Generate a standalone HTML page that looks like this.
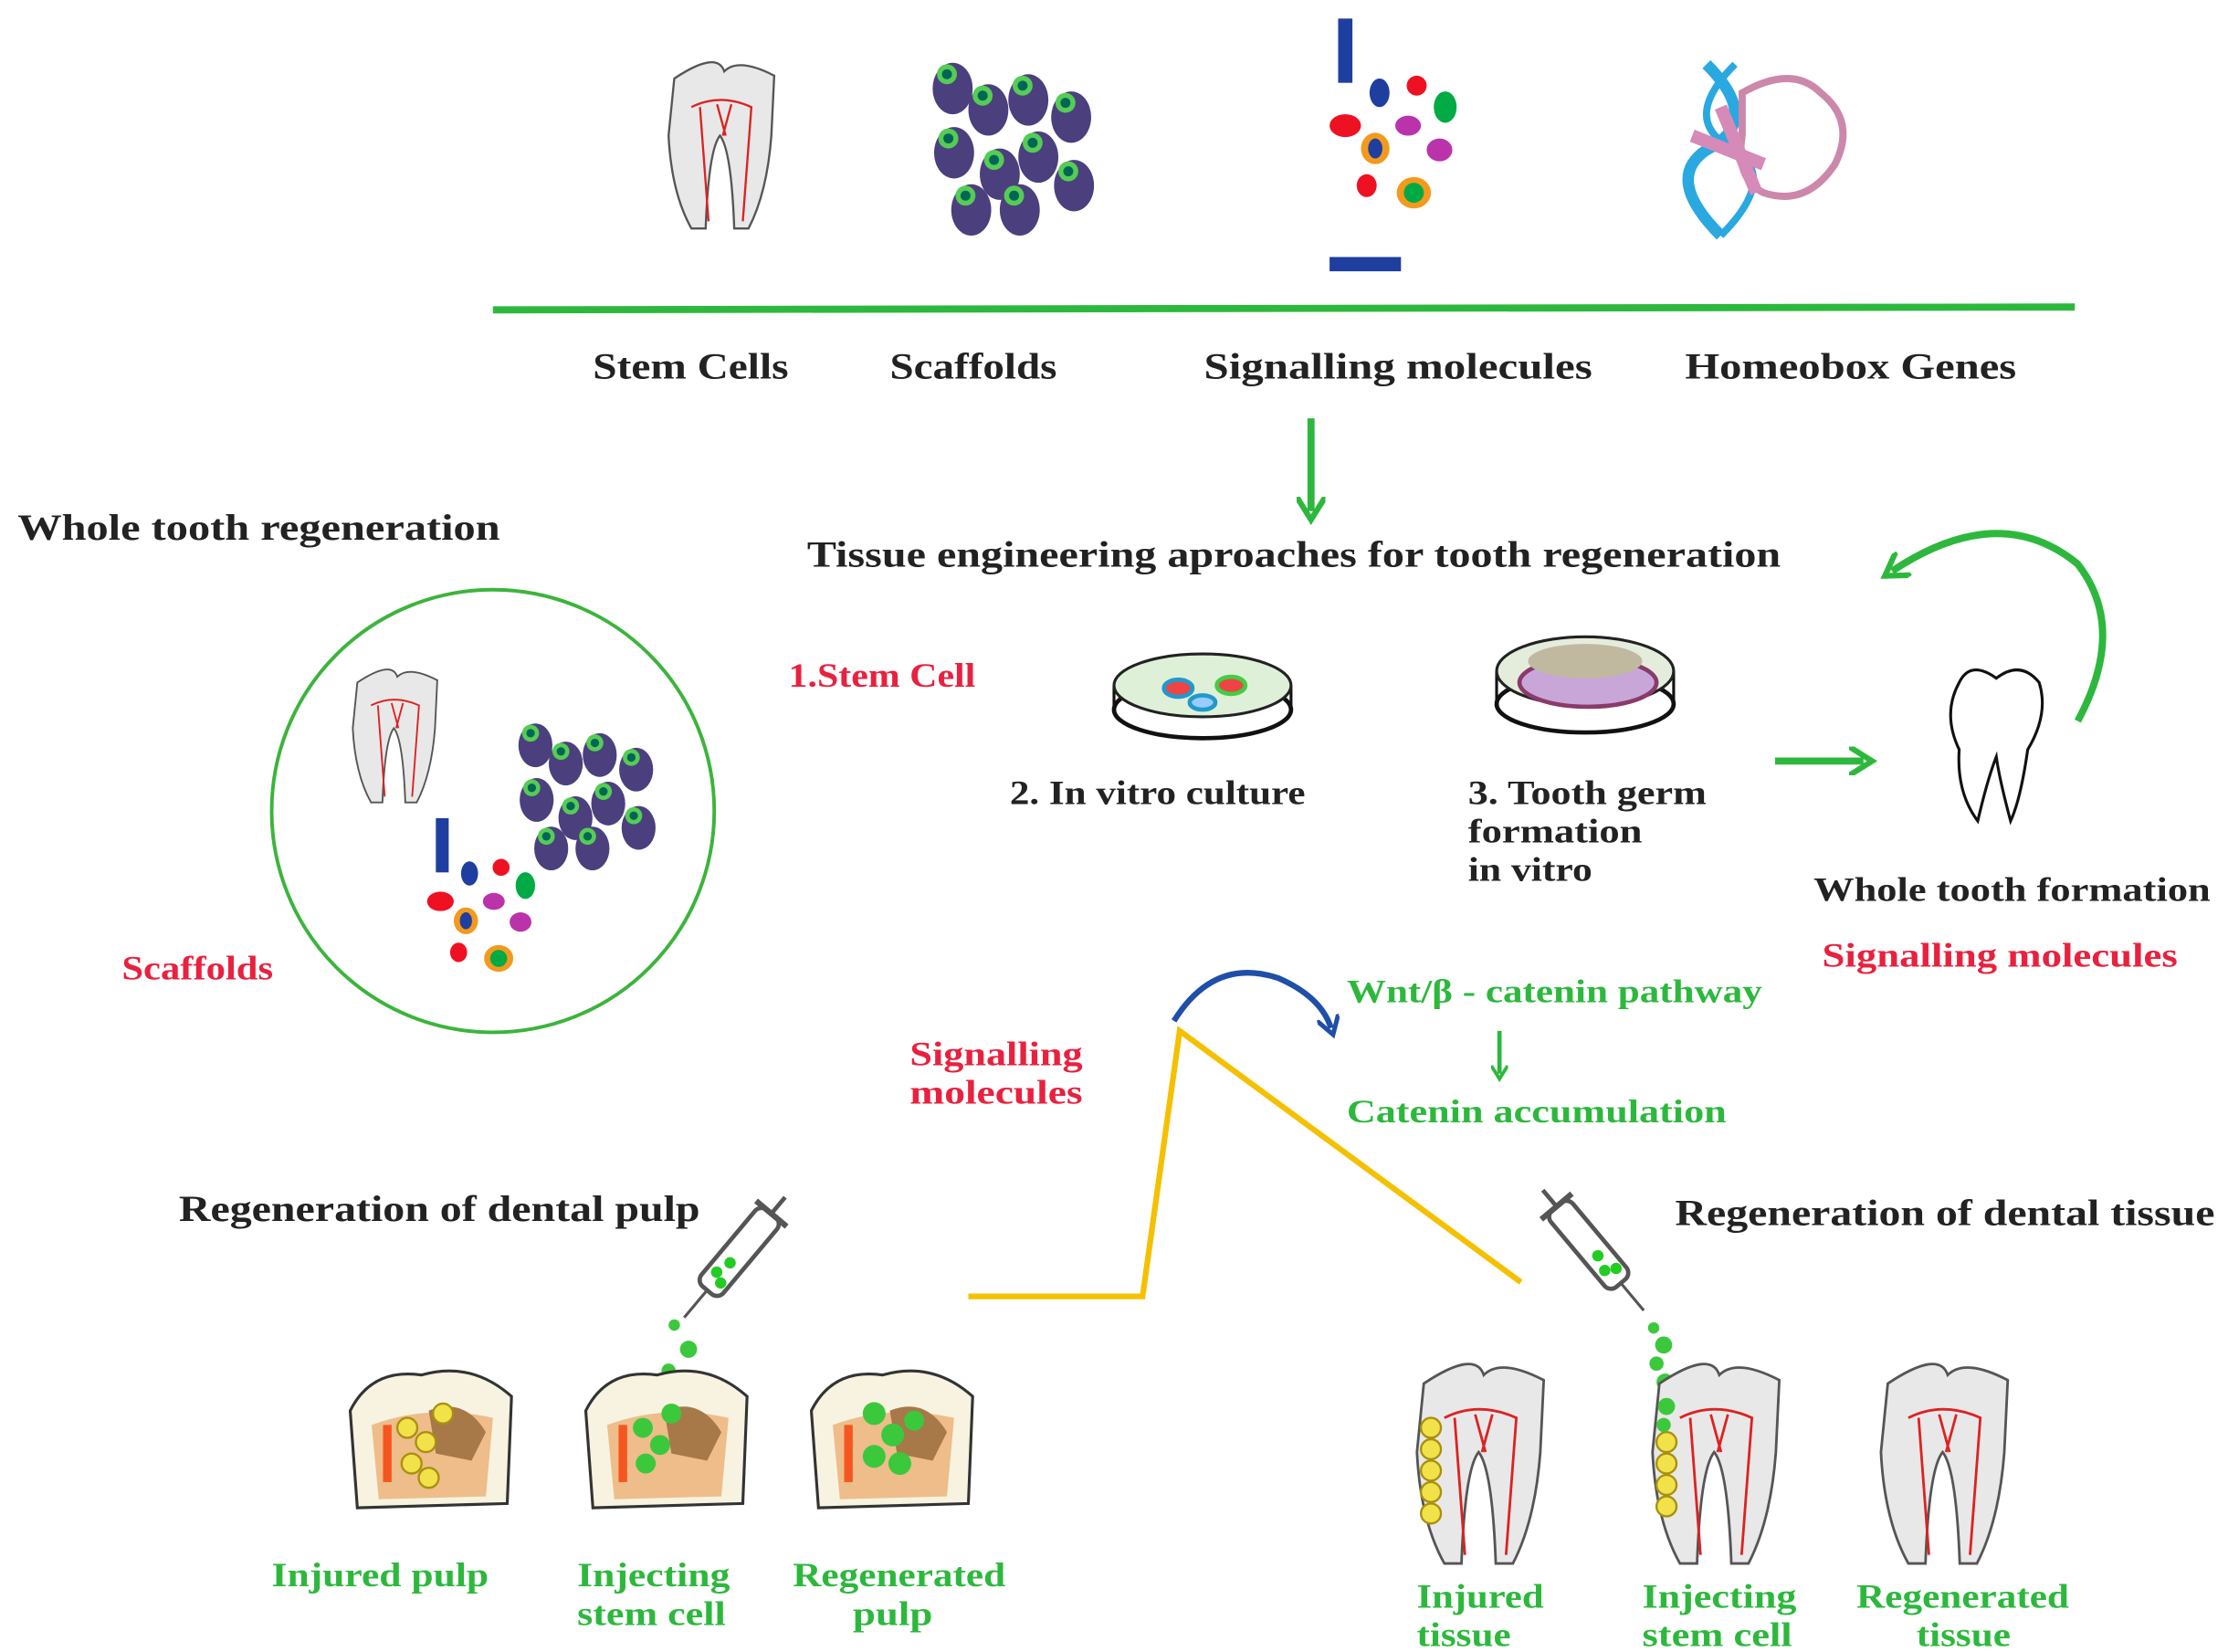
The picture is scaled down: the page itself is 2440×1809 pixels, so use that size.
<!DOCTYPE html>
<html><head><meta charset="utf-8"><style>
html,body{margin:0;padding:0;background:#fff;}
svg{display:block}
text{font-family:"Liberation Serif",serif;font-weight:bold;}
</style></head><body>
<svg width="2440" height="1809" viewBox="0 0 1560 1157" xmlns="http://www.w3.org/2000/svg">
<defs>
<g id="tooth">
  <path d="M10 20 Q40 0 45 15 Q55 5 80 18 L78 60 Q75 100 62 125 L52 125 Q50 70 42 60 Q34 70 32 125 L22 125 Q8 100 6 60 Z" fill="#e8e8e8" stroke="#555" stroke-width="1.5"/>
  <path d="M22 40 Q42 30 64 40 L58 120 M28 40 L34 120 M40 38 L46 60 M50 38 L44 60" fill="none" stroke="#d22" stroke-width="1.5"/>
</g>
<g id="cell"><ellipse cx="0" cy="0" rx="14" ry="18" fill="#4b3f7e"/><circle cx="-4" cy="-10" r="7" fill="#5c5"/><circle cx="-4" cy="-10" r="3.5" fill="#065"/></g>
<g id="cells">
  <use href="#cell" x="15" y="20"/><use href="#cell" x="40" y="35"/><use href="#cell" x="68" y="28"/><use href="#cell" x="98" y="40"/>
  <use href="#cell" x="16" y="65"/><use href="#cell" x="48" y="80"/><use href="#cell" x="75" y="68"/><use href="#cell" x="100" y="88"/>
  <use href="#cell" x="28" y="105"/><use href="#cell" x="62" y="105"/>
</g>
<g id="mols">
  <ellipse cx="36" cy="55" rx="7" ry="10" fill="#1e3ea0"/><ellipse cx="62" cy="50" rx="7" ry="7" fill="#e12"/><ellipse cx="82" cy="65" rx="8" ry="11" fill="#0a4"/>
  <ellipse cx="12" cy="78" rx="11" ry="8" fill="#e12"/><ellipse cx="56" cy="78" rx="9" ry="7" fill="#b3a"/>
  <ellipse cx="33" cy="94" rx="10" ry="11" fill="#f39a1e"/><ellipse cx="33" cy="94" rx="5" ry="7" fill="#1e3ea0"/><ellipse cx="78" cy="95" rx="9" ry="8" fill="#b3a"/>
  <ellipse cx="27" cy="120" rx="7" ry="8" fill="#e12"/><ellipse cx="60" cy="125" rx="12" ry="11" fill="#f39a1e"/><ellipse cx="60" cy="125" rx="7" ry="7" fill="#0a4"/>
</g>
<g id="crown">
  <path d="M5 30 Q20 0 55 5 Q90 -5 118 20 L115 95 L10 98 Z" fill="#f7f3e0" stroke="#333" stroke-width="2"/>
  <path d="M20 40 Q60 25 105 35 L100 90 L25 92 Z" fill="#eebd8a"/>
  <path d="M60 30 Q85 20 100 45 L90 65 L65 60 Z" fill="#a77848"/>
  <rect x="28" y="40" width="6" height="40" fill="#f5561f"/>
</g>
<g id="syringe">
  <rect x="-10" y="0" width="20" height="70" rx="6" fill="#fff" stroke="#555" stroke-width="3"/>
  <line x1="-14" y1="0" x2="14" y2="0" stroke="#555" stroke-width="4"/>
  <line x1="0" y1="-15" x2="0" y2="0" stroke="#555" stroke-width="3"/>
  <line x1="0" y1="70" x2="0" y2="95" stroke="#555" stroke-width="2"/>
  <circle cx="0" cy="45" r="4" fill="#2c2"/><circle cx="-3" cy="56" r="4" fill="#2c2"/><circle cx="4" cy="60" r="4" fill="#2c2"/>
</g>
<marker id="ag" viewBox="0 0 10 10" refX="5" refY="5" markerWidth="4" markerHeight="4" orient="auto"><path d="M0 0 L8 5 L0 10" fill="none" stroke="#2db83d" stroke-width="2"/></marker>
<marker id="ab" viewBox="0 0 10 10" refX="5" refY="5" markerWidth="4" markerHeight="4" orient="auto"><path d="M0 0 L8 5 L0 10" fill="none" stroke="#1f4fa8" stroke-width="2"/></marker>
</defs>

<use href="#tooth" transform="translate(462,35) scale(1)"/>
<use href="#cells" transform="translate(652,42)"/>
<rect x="937" y="13" width="10" height="45" fill="#1e3ea0"/>
<use href="#mols" transform="translate(930,10)"/>
<rect x="931" y="180" width="50" height="10" fill="#1e3ea0"/>
<g transform="translate(1175,45)">
  <path d="M20 0 Q60 40 20 60 Q-10 80 30 120" fill="none" stroke="#2aa8e0" stroke-width="8"/>
  <path d="M40 0 Q0 40 40 60 Q70 80 30 120" fill="none" stroke="#2aa8e0" stroke-width="5"/>
  <path d="M45 20 Q80 0 100 20 Q125 40 110 70 Q90 100 60 90 Q40 80 45 50 Z" fill="none" stroke="#c8a" stroke-width="5"/>
  <path d="M10 50 L60 70 M30 30 L55 90" stroke="#d58ab8" stroke-width="9"/>
</g>
<line x1="345" y1="217" x2="1453" y2="215" stroke="#2db83d" stroke-width="5"/>
<g font-size="26" fill="#222" lengthAdjust="spacingAndGlyphs">
<text x="415" y="265" textLength="137" lengthAdjust="spacingAndGlyphs">Stem Cells</text>
<text x="623" y="265" textLength="117" lengthAdjust="spacingAndGlyphs">Scaffolds</text>
<text x="843" y="265" textLength="272" lengthAdjust="spacingAndGlyphs">Signalling molecules</text>
<text x="1180" y="265" textLength="232" lengthAdjust="spacingAndGlyphs">Homeobox Genes</text>
</g>
<line x1="918" y1="293" x2="918" y2="358" stroke="#2db83d" stroke-width="5" marker-end="url(#ag)"/>

<text x="12" y="378" font-size="26" fill="#222" textLength="338" lengthAdjust="spacingAndGlyphs">Whole tooth regeneration</text>
<text x="565" y="397" font-size="26" fill="#222" textLength="682" lengthAdjust="spacingAndGlyphs">Tissue engineering aproaches for tooth regeneration</text>

<circle cx="345" cy="568" r="155" fill="none" stroke="#3cb43c" stroke-width="2.5"/>
<use href="#tooth" transform="translate(242,462) scale(0.8)"/>
<use href="#cells" transform="translate(362,505) scale(0.85)"/>
<rect x="305" y="573" width="9" height="38" fill="#1e3ea0"/>
<use href="#mols" transform="translate(298,565) scale(0.85)"/>
<text x="85" y="686" font-size="24" fill="#e8213f" textLength="106" lengthAdjust="spacingAndGlyphs">Scaffolds</text>

<text x="552" y="481" font-size="24" fill="#e8213f" textLength="131" lengthAdjust="spacingAndGlyphs">1.Stem Cell</text>
<g>
  <ellipse cx="842" cy="497" rx="62" ry="20" fill="#fff" stroke="#111" stroke-width="3"/>
  <path d="M780 480 L780 497 M904 480 L904 497" stroke="#111" stroke-width="2"/>
  <ellipse cx="842" cy="480" rx="62" ry="22" fill="#dff0d8" stroke="#222" stroke-width="2"/>
  <ellipse cx="825" cy="482" rx="10" ry="6" fill="#e44" stroke="#29c" stroke-width="3"/>
  <ellipse cx="862" cy="480" rx="10" ry="6" fill="#e44" stroke="#4c4" stroke-width="3"/>
  <ellipse cx="842" cy="492" rx="9" ry="5" fill="#9cf" stroke="#29c" stroke-width="3"/>
</g>
<g>
  <ellipse cx="1110" cy="493" rx="62" ry="20" fill="#fff" stroke="#111" stroke-width="3"/>
  <path d="M1048 470 L1048 493 M1172 470 L1172 493" stroke="#111" stroke-width="2"/>
  <ellipse cx="1110" cy="470" rx="62" ry="24" fill="#e4eddc" stroke="#222" stroke-width="2"/>
  <ellipse cx="1112" cy="478" rx="48" ry="17" fill="#c9a6d8" stroke="#8a3b6a" stroke-width="3"/>
  <ellipse cx="1110" cy="463" rx="40" ry="12" fill="#c0b9a0"/>
</g>
<g font-size="24" fill="#222">
<text x="707" y="563" textLength="207" lengthAdjust="spacingAndGlyphs">2. In vitro culture</text>
<text x="1028" y="563" textLength="167" lengthAdjust="spacingAndGlyphs">3. Tooth germ</text>
<text x="1028" y="590" textLength="122" lengthAdjust="spacingAndGlyphs">formation</text>
<text x="1028" y="617" textLength="87" lengthAdjust="spacingAndGlyphs">in vitro</text>
</g>
<line x1="1243" y1="533" x2="1305" y2="533" stroke="#2db83d" stroke-width="5" marker-end="url(#ag)"/>
<path d="M1372 478 Q1380 462 1398 475 Q1415 462 1428 478 Q1435 500 1420 525 Q1415 560 1408 575 Q1400 545 1398 530 Q1392 545 1385 575 Q1370 555 1372 525 Q1360 500 1372 478 Z" fill="#fff" stroke="#111" stroke-width="2"/>
<path d="M1455 505 Q1490 440 1455 395 Q1400 350 1325 400" fill="none" stroke="#2db83d" stroke-width="5" marker-end="url(#ag)"/>
<text x="1270" y="631" font-size="24" fill="#222" textLength="278" lengthAdjust="spacingAndGlyphs">Whole tooth formation</text>
<text x="1276" y="677" font-size="24" fill="#e8213f" textLength="249" lengthAdjust="spacingAndGlyphs">Signalling molecules</text>

<path d="M822 715 Q850 670 895 685 Q925 698 932 720" fill="none" stroke="#1f4fa8" stroke-width="4" marker-end="url(#ab)"/>
<text x="943" y="702" font-size="23" fill="#2db83d" textLength="291" lengthAdjust="spacingAndGlyphs">Wnt/β - catenin pathway</text>
<line x1="1050" y1="722" x2="1050" y2="752" stroke="#2db83d" stroke-width="3" marker-end="url(#ag)"/>
<text x="943" y="786" font-size="23" fill="#2db83d" textLength="266" lengthAdjust="spacingAndGlyphs">Catenin accumulation</text>
<text x="637" y="746" font-size="24" fill="#e8213f" textLength="121" lengthAdjust="spacingAndGlyphs">Signalling</text>
<text x="637" y="773" font-size="24" fill="#e8213f" textLength="121" lengthAdjust="spacingAndGlyphs">molecules</text>
<polyline points="678,908 800,908 826,722 1065,898" fill="none" stroke="#f5c000" stroke-width="4"/>

<text x="125" y="855" font-size="26" fill="#222" textLength="365" lengthAdjust="spacingAndGlyphs">Regeneration of dental pulp</text>
<text x="1173" y="858" font-size="26" fill="#222" textLength="378" lengthAdjust="spacingAndGlyphs">Regeneration of dental tissue</text>

<use href="#syringe" transform="translate(540,850) rotate(40)"/>
<use href="#syringe" transform="translate(1090,845) rotate(-40)"/>
<g fill="#3cc83c">
<circle cx="472" cy="928" r="4"/><circle cx="482" cy="945" r="6"/><circle cx="468" cy="960" r="5"/><circle cx="480" cy="968" r="6"/>
<circle cx="1158" cy="930" r="4"/><circle cx="1165" cy="942" r="6"/><circle cx="1160" cy="955" r="5"/><circle cx="1166" cy="968" r="6"/>
</g>
<use href="#crown" transform="translate(240,958)"/>
<use href="#crown" transform="translate(405,958)"/>
<use href="#crown" transform="translate(563,958)"/>
<g fill="#f2e24a" stroke="#a89010" stroke-width="1.5">
<circle cx="285" cy="1000" r="7"/><circle cx="298" cy="1010" r="7"/><circle cx="288" cy="1025" r="7"/><circle cx="300" cy="1035" r="7"/><circle cx="310" cy="990" r="7"/>
</g>
<g fill="#3cc83c">
<circle cx="450" cy="1000" r="7"/><circle cx="462" cy="1012" r="7"/><circle cx="452" cy="1025" r="7"/><circle cx="470" cy="990" r="7"/>
<circle cx="612" cy="990" r="8"/><circle cx="625" cy="1005" r="8"/><circle cx="612" cy="1020" r="8"/><circle cx="630" cy="1025" r="8"/><circle cx="640" cy="995" r="7"/>
</g>

<use href="#tooth" transform="translate(985,945) scale(1.2)"/>
<use href="#tooth" transform="translate(1150,945) scale(1.2)"/>
<use href="#tooth" transform="translate(1310,945) scale(1.2)"/>
<g fill="#f2e24a" stroke="#a89010" stroke-width="1.5">
<circle cx="1002" cy="1000" r="7"/><circle cx="1002" cy="1015" r="7"/><circle cx="1002" cy="1030" r="7"/><circle cx="1002" cy="1045" r="7"/><circle cx="1002" cy="1060" r="7"/>
<circle cx="1167" cy="1010" r="7"/><circle cx="1167" cy="1025" r="7"/><circle cx="1167" cy="1040" r="7"/><circle cx="1167" cy="1055" r="7"/>
</g>
<g fill="#3cc83c"><circle cx="1167" cy="985" r="6"/><circle cx="1165" cy="998" r="5"/></g>

<g font-size="24" fill="#2db83d">
<text x="190" y="1111" textLength="152" lengthAdjust="spacingAndGlyphs">Injured pulp</text>
<text x="404" y="1111" textLength="107" lengthAdjust="spacingAndGlyphs">Injecting</text><text x="404" y="1138" textLength="104" lengthAdjust="spacingAndGlyphs">stem cell</text>
<text x="555" y="1111" textLength="149" lengthAdjust="spacingAndGlyphs">Regenerated</text><text x="597" y="1138" textLength="56" lengthAdjust="spacingAndGlyphs">pulp</text>
<text x="992" y="1126" textLength="89" lengthAdjust="spacingAndGlyphs">Injured</text><text x="992" y="1153" textLength="66" lengthAdjust="spacingAndGlyphs">tissue</text>
<text x="1150" y="1126" textLength="108" lengthAdjust="spacingAndGlyphs">Injecting</text><text x="1150" y="1153" textLength="105" lengthAdjust="spacingAndGlyphs">stem cell</text>
<text x="1300" y="1126" textLength="149" lengthAdjust="spacingAndGlyphs">Regenerated</text><text x="1342" y="1153" textLength="66" lengthAdjust="spacingAndGlyphs">tissue</text>
</g>
</svg>
</body></html>
